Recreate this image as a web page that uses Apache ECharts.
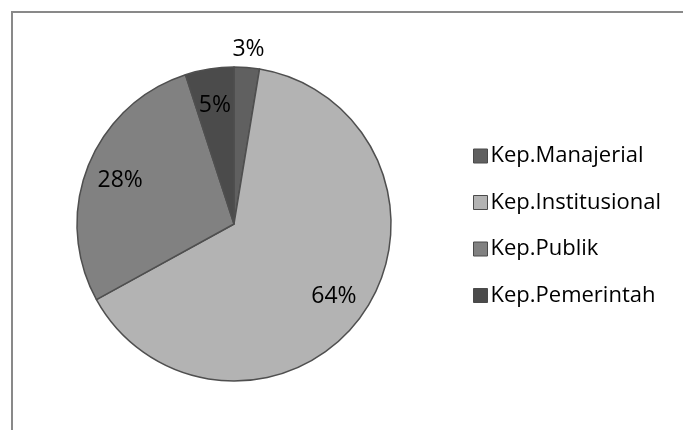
<!DOCTYPE html>
<html>
<head>
<meta charset="utf-8">
<script src="https://cdn.jsdelivr.net/npm/echarts@6/dist/echarts.min.js"></script>
<style>
html,body{margin:0;padding:0;background:#fff;}
#chart{width:683px;height:430px;}
</style>
</head>
<body>
<div id="chart"></div>
<script>
const categories = ['Kep.Manajerial', 'Kep.Institusional', 'Kep.Publik', 'Kep.Pemerintah'];
const values = [2.6, 64.4, 28.0, 5.0];
const sliceColors = ['#606060', '#b3b3b3', '#818181', '#4b4b4b'];

const FONT = 'Open Sans';
const CX = 234, CY = 224, R = 157;
const total = values.reduce((a, b) => a + b, 0);

const chart = echarts.init(document.getElementById('chart'), null, {renderer: 'canvas'});
chart.setOption({
  animation: false,
  backgroundColor: '#ffffff',
  color: sliceColors,
  graphic: [{
    type: 'rect',
    shape: {x: 12, y: 12, width: 900, height: 700},
    style: {fill: 'none', stroke: '#898989', lineWidth: 2},
    silent: true,
    z: -1
  }],
  legend: {
    orient: 'vertical',
    left: 468,
    top: 140,
    itemWidth: 14,
    itemHeight: 14,
    itemGap: 24.5,
    icon: 'rect',
    data: categories,
    textStyle: {fontFamily: FONT, fontSize: 22, color: '#000', lineHeight: 20, padding: [0, 0, 0, -2]},
    itemStyle: {borderColor: '#4a4a4a', borderWidth: 1}
  },
  series: [{
    type: 'pie',
    center: [CX, CY],
    radius: [0, R],
    startAngle: 90,
    clockwise: true,
    avoidLabelOverlap: false,
    itemStyle: {borderColor: '#4f4f4f', borderWidth: 1.5},
    label: {
      show: true,
      position: 'inside',
      fontFamily: FONT,
      fontSize: 23,
      color: '#000',
      formatter: p => Math.round(p.value / total * 100) + '%'
    },
    labelLine: {show: false},
    labelLayout: function (params) {
      const i = params.dataIndex;
      let before = 0;
      for (let k = 0; k < i; k++) before += values[k];
      const mid = (before + values[i] / 2) / total * Math.PI * 2;
      const frac = values[i] / total < 0.04 ? 1.13 : 0.78;
      return {
        x: CX + Math.sin(mid) * R * frac,
        y: CY - Math.cos(mid) * R * frac + 2,
        align: 'center',
        verticalAlign: 'middle'
      };
    },
    emphasis: {disabled: true},
    data: categories.map((c, i) => ({name: c, value: values[i]}))
  }]
});
</script>
</body>
</html>
